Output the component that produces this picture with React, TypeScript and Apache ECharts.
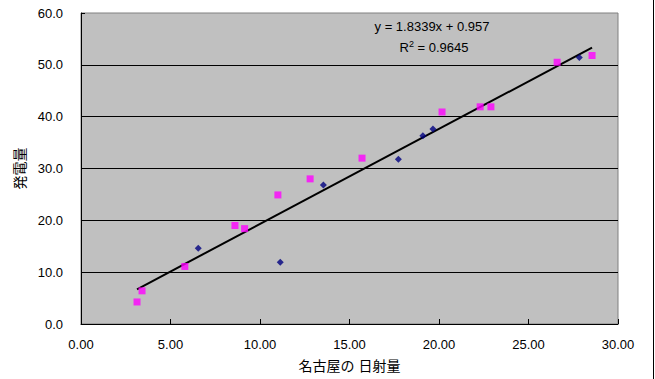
import React, { useEffect, useRef } from "react";
import * as echarts from "echarts";

// Magenta squares series
const magentaX = [3.13, 3.41, 5.8, 8.6, 9.14, 11.0, 12.8, 15.7, 20.17, 22.3, 22.9, 26.6, 28.55];
const magentaY = [4.25, 6.4, 11.1, 19.0, 18.4, 24.9, 28.0, 32.0, 40.9, 41.9, 41.9, 50.5, 51.8];
// Navy diamonds series
const navyX = [6.55, 11.13, 13.54, 17.73, 19.1, 19.66, 27.84];
const navyY = [14.6, 11.9, 26.8, 31.8, 36.3, 37.6, 51.4];

// Trendline (from the chart's label)
const slope = 1.8339;
const intercept = 0.957;
const r2 = "0.9645";

const xTickMin = 0;
const xTickMax = 30;
const xTickStep = 5;
const yTickMin = 0;
const yTickMax = 60;
const yTickStep = 10;

const xTitle = "名古屋の 日射量";
const yTitle = "発電量";

const FONT = "'Liberation Sans', Arial, 'Noto Sans CJK JP', sans-serif";

export default function App() {
  const ref = useRef<HTMLDivElement>(null);

  useEffect(() => {
    if (!ref.current) return;
    const chart = echarts.init(ref.current, null, { renderer: "svg" });
    const allX = [...magentaX, ...navyX];
    const xMinData = Math.min(...allX);
    const xMaxData = Math.max(...allX);
    const trend = [
      [xMinData, slope * xMinData + intercept],
      [xMaxData, slope * xMaxData + intercept],
    ];

    chart.setOption({
      animation: false,
      backgroundColor: "#FFFFFF",
      textStyle: { fontFamily: FONT },
      grid: {
        left: 81,
        right: 37,
        top: 13,
        bottom: 55,
        show: true,
        backgroundColor: "#C0C0C0",
        borderColor: "#808080",
        borderWidth: 1,
      },
      xAxis: {
        type: "value",
        min: xTickMin,
        max: xTickMax,
        interval: xTickStep,
        name: xTitle,
        nameLocation: "middle",
        nameGap: 35,
        nameTextStyle: { fontSize: 14, color: "#000", fontFamily: FONT },
        axisLine: { show: true, onZero: false, lineStyle: { color: "#000", width: 1 } },
        axisTick: { show: true, inside: true, length: 5, lineStyle: { color: "#000" } },
        axisLabel: {
          fontSize: 13,
          color: "#000",
          margin: 14,
          fontFamily: FONT,
          formatter: (v: number) => v.toFixed(2),
        },
        splitLine: { show: false },
      },
      yAxis: {
        type: "value",
        min: yTickMin,
        max: yTickMax,
        interval: yTickStep,
        name: yTitle,
        nameLocation: "middle",
        nameRotate: 90,
        nameGap: 51,
        nameTextStyle: { fontSize: 14, color: "#000", fontFamily: FONT },
        axisLine: { show: true, onZero: false, lineStyle: { color: "#000", width: 1 } },
        axisTick: { show: true, inside: true, length: 4, lineStyle: { color: "#000" } },
        axisLabel: {
          fontSize: 13,
          color: "#000",
          margin: 18,
          fontFamily: FONT,
          formatter: (v: number) => v.toFixed(1),
        },
        splitLine: {
          show: true,
          showMaxLine: false,
          showMinLine: false,
          lineStyle: { color: "#000", width: 1 },
        },
      },
      series: [
        {
          type: "line",
          data: trend,
          symbol: "none",
          lineStyle: { color: "#000", width: 2 },
          z: 3,
        },
        {
          type: "scatter",
          data: navyX.map((x, i) => [x, navyY[i]]),
          symbol: "diamond",
          symbolSize: 7,
          itemStyle: { color: "#000080" },
          z: 4,
        },
        {
          type: "scatter",
          data: magentaX.map((x, i) => [x, magentaY[i]]),
          symbol: "rect",
          symbolSize: 7,
          itemStyle: { color: "#FF00FF" },
          z: 4,
        },
      ],
      graphic: [
        {
          type: "text",
          x: 432,
          y: 26,
          style: {
            text: `y = ${slope}x + ${intercept}`,
            fontSize: 13,
            fontFamily: FONT,
            fill: "#000",
            align: "center",
            verticalAlign: "middle",
          },
          z: 10,
        },
        {
          type: "text",
          x: 434,
          y: 47,
          style: {
            text: `R{sup|2} = ${r2}`,
            fontSize: 13,
            fontFamily: FONT,
            fill: "#000",
            align: "center",
            verticalAlign: "middle",
            rich: {
              sup: { fontSize: 9, fontFamily: FONT, verticalAlign: "top", padding: [0, 0, 6, 0] },
            },
          },
          z: 10,
        },
        {
          type: "line",
          shape: { x1: 653.5, y1: 0, x2: 653.5, y2: 379 },
          style: { stroke: "#000", lineWidth: 1 },
        },
      ],
    });

    return () => chart.dispose();
  }, []);

  return (
    <div
      ref={ref}
      style={{ position: "absolute", left: 0, top: 0, width: 655, height: 379 }}
    />
  );
}
